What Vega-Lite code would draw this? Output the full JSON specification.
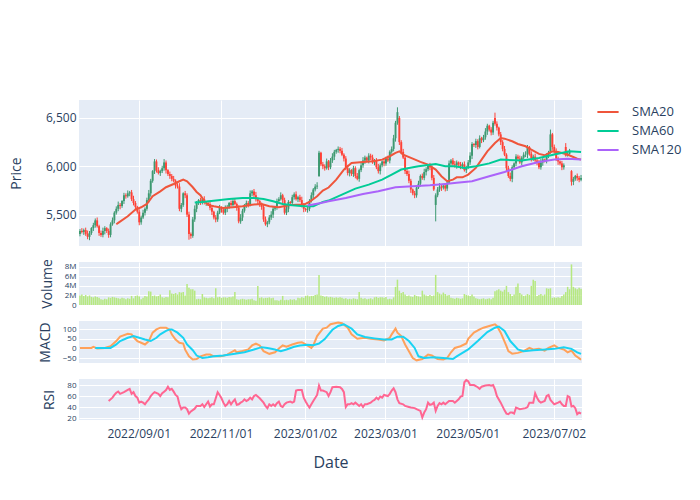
{
"$schema":"https://vega.github.io/schema/vega-lite/v6.json",
"padding":{"left":9,"top":100,"right":5,"bottom":5},
"background":"white",
"bounds":"flush",
"data":{"values":[
{"d":"2022-07-20","o":5300,"h":5350,"l":5275,"c":5330,"v":2000000,"m":3},
{"d":"2022-07-21","o":5330,"h":5360,"l":5305,"c":5320,"v":2200000},
{"d":"2022-07-22","o":5320,"h":5355,"l":5290,"c":5340,"v":1900000},
{"d":"2022-07-25","o":5340,"h":5365,"l":5280,"c":5300,"v":2100000,"m":3},
{"d":"2022-07-26","o":5300,"h":5335,"l":5245,"c":5270,"v":1800000},
{"d":"2022-07-27","o":5270,"h":5330,"l":5235,"c":5310,"v":2000000},
{"d":"2022-07-28","o":5310,"h":5370,"l":5290,"c":5360,"v":1700000,"m":3},
{"d":"2022-07-29","o":5360,"h":5415,"l":5330,"c":5390,"v":1600000,"m":9},
{"d":"2022-08-01","o":5390,"h":5460,"l":5365,"c":5440,"v":1800000,"s":3},
{"d":"2022-08-02","o":5440,"h":5470,"l":5365,"c":5380,"v":1700000,"m":0},
{"d":"2022-08-03","o":5380,"h":5395,"l":5280,"c":5310,"v":1500000},
{"d":"2022-08-04","o":5310,"h":5335,"l":5270,"c":5290,"v":1200000},
{"d":"2022-08-05","o":5290,"h":5365,"l":5265,"c":5330,"v":1100000},
{"d":"2022-08-08","o":5330,"h":5380,"l":5295,"c":5360,"v":1300000,"m":3},
{"d":"2022-08-09","o":5360,"h":5370,"l":5310,"c":5330,"v":1200000},
{"d":"2022-08-10","o":5330,"h":5355,"l":5260,"c":5290,"v":1600000,"r":51},
{"d":"2022-08-11","o":5290,"h":5420,"l":5265,"c":5400,"v":1500000,"m":12,"s":3},
{"d":"2022-08-12","o":5400,"h":5470,"l":5385,"c":5440,"v":1700000,"r":57},
{"d":"2022-08-15","o":5440,"h":5535,"l":5410,"c":5520,"v":1600000,"r":62},
{"d":"2022-08-16","o":5520,"h":5585,"l":5500,"c":5560,"v":1500000,"SMA20":5400,"m":39,"s":21,"r":66},
{"d":"2022-08-17","o":5560,"h":5635,"l":5535,"c":5600,"v":1400000,"SMA20":5414,"r":68},
{"d":"2022-08-18","o":5600,"h":5620,"l":5555,"c":5590,"v":1300000,"m":62,"s":39,"r":64},
{"d":"2022-08-19","o":5590,"h":5650,"l":5570,"c":5640,"v":1500000},
{"d":"2022-08-22","o":5640,"h":5725,"l":5610,"c":5700,"v":1400000,"r":67},
{"d":"2022-08-23","o":5700,"h":5720,"l":5665,"c":5690,"v":1200000},
{"d":"2022-08-24","o":5690,"h":5750,"l":5675,"c":5720,"v":1400000,"SMA20":5483,"m":77,"s":56,"r":71},
{"d":"2022-08-25","o":5720,"h":5745,"l":5690,"c":5730,"v":1300000,"r":73},
{"d":"2022-08-26","o":5730,"h":5755,"l":5640,"c":5660,"v":1900000,"m":74,"r":64},
{"d":"2022-08-29","o":5660,"h":5695,"l":5595,"c":5620,"v":1400000,"m":60,"s":65,"r":67},
{"d":"2022-08-30","o":5620,"h":5640,"l":5545,"c":5580,"v":1900000,"SMA20":5552,"r":60},
{"d":"2022-08-31","o":5580,"h":5590,"l":5510,"c":5530,"v":2000000,"m":39,"r":57},
{"d":"2022-09-01","o":5530,"h":5555,"l":5390,"c":5420,"v":1800000,"s":56,"r":48},
{"d":"2022-09-02","o":5420,"h":5490,"l":5395,"c":5470,"v":1200000,"SMA20":5576,"m":30,"r":50},
{"d":"2022-09-05","o":5470,"h":5550,"l":5455,"c":5520,"v":1500000,"r":48},
{"d":"2022-09-06","o":5520,"h":5575,"l":5490,"c":5560,"v":1900000,"m":21,"s":47,"r":45},
{"d":"2022-09-07","o":5560,"h":5675,"l":5540,"c":5650,"v":1800000,"SMA20":5610,"r":50},
{"d":"2022-09-08","o":5650,"h":5755,"l":5625,"c":5720,"v":2900000,"m":39,"r":54},
{"d":"2022-09-09","o":5720,"h":5870,"l":5685,"c":5850,"v":2800000,"s":39,"r":60},
{"d":"2022-09-12","o":5850,"h":5960,"l":5830,"c":5950,"v":1900000,"SMA20":5690,"m":83,"r":64},
{"d":"2022-09-13","o":5950,"h":6075,"l":5920,"c":6050,"v":2000000,"r":67},
{"d":"2022-09-14","o":6050,"h":6070,"l":5935,"c":5960,"v":1800000,"m":100,"s":56},
{"d":"2022-09-15","o":5960,"h":5990,"l":5915,"c":5930,"v":1900000,"r":64},
{"d":"2022-09-16","o":5930,"h":5965,"l":5900,"c":5950,"v":2200000,"SMA20":5741,"m":109,"s":74,"r":60},
{"d":"2022-09-19","o":5950,"h":6005,"l":5930,"c":5980,"v":1600000,"r":65},
{"d":"2022-09-20","o":5980,"h":6075,"l":5955,"c":6040,"v":1500000,"r":68},
{"d":"2022-09-21","o":6040,"h":6060,"l":5925,"c":5960,"v":1700000,"SMA20":5783,"m":109,"s":92,"r":71},
{"d":"2022-09-22","o":5960,"h":5970,"l":5900,"c":5920,"v":1600000,"r":77},
{"d":"2022-09-23","o":5920,"h":5945,"l":5870,"c":5900,"v":3100000,"m":97,"s":100,"r":71},
{"d":"2022-09-26","o":5900,"h":5920,"l":5845,"c":5870,"v":2400000,"m":74,"s":100,"r":73},
{"d":"2022-09-27","o":5870,"h":5900,"l":5835,"c":5850,"v":2300000,"SMA20":5817,"r":68},
{"d":"2022-09-28","o":5850,"h":5865,"l":5770,"c":5800,"v":2500000,"m":47,"r":62},
{"d":"2022-09-29","o":5800,"h":5825,"l":5770,"c":5790,"v":2200000,"s":83,"r":59},
{"d":"2022-09-30","o":5790,"h":5825,"l":5535,"c":5560,"v":2700000,"SMA20":5845,"m":30,"r":45},
{"d":"2022-10-03","o":5560,"h":5620,"l":5525,"c":5600,"v":2600000,"r":36},
{"d":"2022-10-04","o":5600,"h":5730,"l":5580,"c":5720,"v":2700000,"SMA20":5862,"m":26,"s":56,"r":39},
{"d":"2022-10-05","o":5720,"h":5745,"l":5670,"c":5700,"v":2000000,"m":-6,"r":39},
{"d":"2022-10-06","o":5700,"h":5720,"l":5475,"c":5500,"v":4400000,"SMA20":5845,"s":21,"r":36},
{"d":"2022-10-07","o":5500,"h":5530,"l":5240,"c":5300,"v":3600000,"m":-41,"r":28},
{"d":"2022-10-10","o":5300,"h":5315,"l":5250,"c":5280,"v":3300000,"r":32},
{"d":"2022-10-11","o":5280,"h":5475,"l":5260,"c":5450,"v":3300000,"SMA20":5783,"m":-58,"s":-9},
{"d":"2022-10-12","o":5450,"h":5595,"l":5425,"c":5560,"v":3000000,"SMA60":5625,"r":37},
{"d":"2022-10-13","o":5560,"h":5640,"l":5525,"c":5620,"v":1200000,"SMA20":5734,"m":-55,"s":-37,"r":42},
{"d":"2022-10-14","o":5620,"h":5660,"l":5600,"c":5650,"v":1300000},
{"d":"2022-10-17","o":5650,"h":5675,"l":5600,"c":5630,"v":1200000,"SMA20":5700,"m":-41,"r":42},
{"d":"2022-10-18","o":5630,"h":5680,"l":5605,"c":5660,"v":2300000,"SMA60":5631,"s":-50,"r":45},
{"d":"2022-10-19","o":5660,"h":5690,"l":5605,"c":5620,"v":1600000,"SMA20":5640,"r":40},
{"d":"2022-10-20","o":5620,"h":5635,"l":5590,"c":5620,"v":1500000,"m":-32,"r":45},
{"d":"2022-10-21","o":5620,"h":5645,"l":5590,"c":5610,"v":1400000,"SMA20":5600,"s":-46,"r":50},
{"d":"2022-10-24","o":5610,"h":5645,"l":5545,"c":5570,"v":1500000,"m":-32,"r":41},
{"d":"2022-10-25","o":5570,"h":5590,"l":5495,"c":5530,"v":1600000,"r":45},
{"d":"2022-10-26","o":5530,"h":5540,"l":5450,"c":5470,"v":1400000,"SMA20":5586,"m":-41,"s":-41,"r":45},
{"d":"2022-10-27","o":5470,"h":5495,"l":5420,"c":5450,"v":3500000,"SMA60":5645},
{"d":"2022-10-28","o":5450,"h":5540,"l":5425,"c":5520,"v":1600000,"r":67},
{"d":"2022-10-31","o":5520,"h":5600,"l":5505,"c":5570,"v":1700000,"r":62},
{"d":"2022-11-01","o":5570,"h":5585,"l":5520,"c":5550,"v":1500000,"m":-41,"r":56},
{"d":"2022-11-02","o":5550,"h":5575,"l":5500,"c":5520,"v":1600000,"SMA20":5569,"s":-37,"r":48},
{"d":"2022-11-03","o":5520,"h":5595,"l":5495,"c":5560,"v":1600000,"r":42},
{"d":"2022-11-04","o":5560,"h":5600,"l":5525,"c":5580,"v":1500000,"m":-32,"r":45},
{"d":"2022-11-07","o":5580,"h":5630,"l":5560,"c":5620,"v":1700000,"SMA60":5662,"r":51},
{"d":"2022-11-08","o":5620,"h":5645,"l":5570,"c":5600,"v":1600000,"r":45},
{"d":"2022-11-09","o":5600,"h":5660,"l":5575,"c":5640,"v":1800000,"SMA20":5576,"r":50},
{"d":"2022-11-10","o":5640,"h":5670,"l":5595,"c":5610,"v":2700000,"m":-9,"s":-27,"r":54},
{"d":"2022-11-11","o":5610,"h":5625,"l":5540,"c":5570,"v":1200000,"m":-20,"r":44},
{"d":"2022-11-14","o":5570,"h":5595,"l":5410,"c":5430,"v":1100000,"r":45},
{"d":"2022-11-15","o":5430,"h":5505,"l":5405,"c":5470,"v":1200000,"r":48},
{"d":"2022-11-16","o":5470,"h":5560,"l":5435,"c":5540,"v":1300000,"SMA20":5586,"SMA60":5672,"m":-13,"r":50},
{"d":"2022-11-17","o":5540,"h":5610,"l":5520,"c":5600,"v":1200000,"s":-20,"r":54},
{"d":"2022-11-18","o":5600,"h":5645,"l":5570,"c":5620,"v":1100000,"r":51},
{"d":"2022-11-21","o":5620,"h":5640,"l":5575,"c":5600,"v":1200000,"m":-5,"r":53},
{"d":"2022-11-22","o":5600,"h":5750,"l":5585,"c":5720,"v":1200000,"r":57},
{"d":"2022-11-23","o":5720,"h":5755,"l":5690,"c":5740,"v":1300000,"SMA20":5603,"m":16,"r":54},
{"d":"2022-11-24","o":5740,"h":5765,"l":5680,"c":5700,"v":1000000,"SMA60":5672,"s":-5,"r":60},
{"d":"2022-11-25","o":5700,"h":5735,"l":5635,"c":5660,"v":900000,"m":25,"r":62},
{"d":"2022-11-28","o":5660,"h":5680,"l":5605,"c":5640,"v":4000000},
{"d":"2022-11-29","o":5640,"h":5650,"l":5580,"c":5600,"v":1500000,"m":16,"r":56},
{"d":"2022-11-30","o":5600,"h":5625,"l":5550,"c":5580,"v":1600000,"SMA20":5610,"s":7},
{"d":"2022-12-01","o":5580,"h":5600,"l":5425,"c":5450,"v":1400000,"SMA60":5662,"m":-14,"r":48},
{"d":"2022-12-02","o":5450,"h":5480,"l":5385,"c":5400,"v":1500000,"r":42},
{"d":"2022-12-05","o":5400,"h":5435,"l":5370,"c":5420,"v":1500000,"s":3,"r":38},
{"d":"2022-12-06","o":5420,"h":5495,"l":5400,"c":5470,"v":1600000,"SMA20":5586,"m":-28,"r":45},
{"d":"2022-12-07","o":5470,"h":5535,"l":5445,"c":5500,"v":1400000,"r":42},
{"d":"2022-12-08","o":5500,"h":5580,"l":5465,"c":5560,"v":1500000,"SMA60":5638,"r":45},
{"d":"2022-12-09","o":5560,"h":5590,"l":5540,"c":5580,"v":1000000,"m":-20,"s":-5,"r":42},
{"d":"2022-12-12","o":5580,"h":5665,"l":5550,"c":5640,"v":1000000,"r":47},
{"d":"2022-12-13","o":5640,"h":5680,"l":5615,"c":5660,"v":900000,"SMA20":5576,"m":0,"r":50},
{"d":"2022-12-14","o":5660,"h":5730,"l":5645,"c":5700,"v":1100000,"s":-14,"r":42},
{"d":"2022-12-15","o":5700,"h":5715,"l":5620,"c":5650,"v":1900000,"SMA60":5610,"m":16,"r":40},
{"d":"2022-12-16","o":5650,"h":5675,"l":5500,"c":5520,"v":1000000,"r":45},
{"d":"2022-12-19","o":5520,"h":5595,"l":5495,"c":5560,"v":1100000,"m":9,"s":-5,"r":48},
{"d":"2022-12-20","o":5560,"h":5650,"l":5525,"c":5630,"v":1000000,"SMA20":5596},
{"d":"2022-12-21","o":5630,"h":5640,"l":5600,"c":5620,"v":1200000,"r":50},
{"d":"2022-12-22","o":5620,"h":5705,"l":5590,"c":5680,"v":1100000,"SMA60":5596,"m":21,"r":48},
{"d":"2022-12-23","o":5680,"h":5730,"l":5655,"c":5710,"v":1200000,"s":9,"r":50},
{"d":"2022-12-26","o":5710,"h":5740,"l":5645,"c":5660,"v":1000000,"SMA20":5603,"r":70},
{"d":"2022-12-27","o":5660,"h":5695,"l":5630,"c":5680,"v":1500000,"m":30,"r":71},
{"d":"2022-12-28","o":5680,"h":5705,"l":5630,"c":5650,"v":1400000,"s":16,"r":71},
{"d":"2022-12-29","o":5650,"h":5685,"l":5575,"c":5600,"v":1600000,"m":33,"r":71},
{"d":"2022-12-30","o":5600,"h":5620,"l":5525,"c":5560,"v":1500000,"SMA20":5603,"SMA60":5586,"r":57},
{"d":"2023-01-02","o":5560,"h":5570,"l":5530,"c":5550,"v":1900000,"m":21,"r":50},
{"d":"2023-01-03","o":5550,"h":5585,"l":5520,"c":5560,"v":2000000,"SMA120":5595,"s":19,"r":44},
{"d":"2023-01-04","o":5560,"h":5660,"l":5535,"c":5640,"v":1800000,"SMA20":5631,"r":39},
{"d":"2023-01-05","o":5640,"h":5730,"l":5625,"c":5700,"v":1900000,"m":3,"r":45},
{"d":"2023-01-06","o":5700,"h":5775,"l":5670,"c":5760,"v":1900000,"SMA60":5586,"m":16,"s":17,"r":51},
{"d":"2023-01-09","o":5760,"h":5815,"l":5740,"c":5790,"v":2100000},
{"d":"2023-01-10","o":5790,"h":5835,"l":5765,"c":5800,"v":2200000,"SMA20":5690,"m":65,"r":62},
{"d":"2023-01-11","o":5900,"h":6160,"l":5890,"c":6140,"v":6300000,"s":26,"r":79},
{"d":"2023-01-12","o":6140,"h":6150,"l":6000,"c":6020,"v":2000000,"SMA120":5620,"r":70},
{"d":"2023-01-13","o":6020,"h":6045,"l":5970,"c":6000,"v":1900000,"SMA20":5748,"SMA60":5631,"m":104,"r":70},
{"d":"2023-01-16","o":6000,"h":6020,"l":5955,"c":5980,"v":1700000,"s":49},
{"d":"2023-01-17","o":5980,"h":6080,"l":5965,"c":6050,"v":1800000,"m":109,"r":67},
{"d":"2023-01-18","o":6050,"h":6065,"l":5960,"c":5990,"v":1600000,"SMA20":5780,"SMA60":5645,"SMA120":5638,"s":74,"r":60},
{"d":"2023-01-19","o":5990,"h":6085,"l":5970,"c":6060,"v":1700000,"m":127,"r":67},
{"d":"2023-01-20","o":6060,"h":6135,"l":6035,"c":6100,"v":1600000,"s":98,"r":76},
{"d":"2023-01-23","o":6100,"h":6170,"l":6065,"c":6150,"v":1500000},
{"d":"2023-01-24","o":6150,"h":6180,"l":6130,"c":6170,"v":1600000,"SMA20":5862,"r":77},
{"d":"2023-01-25","o":6170,"h":6205,"l":6140,"c":6180,"v":1500000,"m":136,"s":118},
{"d":"2023-01-26","o":6180,"h":6200,"l":6135,"c":6160,"v":1600000,"r":76},
{"d":"2023-01-27","o":6160,"h":6190,"l":6105,"c":6120,"v":1500000,"SMA60":5707,"m":132,"r":73},
{"d":"2023-01-30","o":6120,"h":6135,"l":6050,"c":6080,"v":1300000,"SMA20":5966,"s":127,"r":67},
{"d":"2023-01-31","o":6080,"h":6105,"l":5960,"c":5980,"v":1400000,"SMA120":5672,"r":40},
{"d":"2023-02-01","o":5980,"h":6015,"l":5905,"c":5930,"v":1200000,"m":109,"r":45},
{"d":"2023-02-02","o":5930,"h":5980,"l":5895,"c":5960,"v":1300000,"r":45},
{"d":"2023-02-03","o":5960,"h":5970,"l":5900,"c":5920,"v":1200000,"SMA20":6035,"m":74,"s":104,"r":47},
{"d":"2023-02-06","o":5920,"h":6005,"l":5890,"c":5980,"v":1400000,"r":45},
{"d":"2023-02-07","o":5980,"h":6000,"l":5875,"c":5900,"v":1300000,"SMA60":5769,"r":48},
{"d":"2023-02-08","o":5900,"h":5930,"l":5855,"c":5870,"v":1200000,"m":51,"s":74,"r":45},
{"d":"2023-02-09","o":5870,"h":5975,"l":5840,"c":5960,"v":2700000,"r":42},
{"d":"2023-02-10","o":5960,"h":6035,"l":5940,"c":6010,"v":1500000,"r":45},
{"d":"2023-02-13","o":6010,"h":6095,"l":5985,"c":6060,"v":1300000,"SMA20":6045,"SMA120":5714,"r":40},
{"d":"2023-02-14","o":6060,"h":6110,"l":6025,"c":6090,"v":1400000,"m":56,"s":60,"r":45},
{"d":"2023-02-15","o":6090,"h":6100,"l":6040,"c":6060,"v":1200000,"r":45},
{"d":"2023-02-16","o":6060,"h":6135,"l":6030,"c":6110,"v":1300000,"SMA60":5810},
{"d":"2023-02-17","o":6110,"h":6130,"l":6065,"c":6090,"v":1400000,"m":51,"r":48},
{"d":"2023-02-20","o":6090,"h":6120,"l":6025,"c":6040,"v":1200000,"SMA20":6052,"r":51},
{"d":"2023-02-21","o":6040,"h":6075,"l":6010,"c":6060,"v":1600000,"s":53,"r":53},
{"d":"2023-02-22","o":6060,"h":6085,"l":5970,"c":5990,"v":1700000,"r":57},
{"d":"2023-02-23","o":5990,"h":6025,"l":5925,"c":5950,"v":1500000,"SMA120":5741,"m":47,"r":54},
{"d":"2023-02-24","o":5950,"h":6030,"l":5915,"c":6010,"v":1600000,"r":59},
{"d":"2023-02-27","o":6010,"h":6060,"l":5990,"c":6050,"v":1600000,"SMA20":6069,"SMA60":5862,"r":57},
{"d":"2023-02-28","o":6050,"h":6075,"l":6000,"c":6030,"v":1500000,"m":42,"s":47,"r":62},
{"d":"2023-03-01","o":6030,"h":6100,"l":6005,"c":6080,"v":1700000},
{"d":"2023-03-02","o":6080,"h":6110,"l":6045,"c":6060,"v":1200000,"r":60},
{"d":"2023-03-03","o":6060,"h":6165,"l":6030,"c":6150,"v":1300000,"SMA20":6104,"m":56,"r":64},
{"d":"2023-03-06","o":6150,"h":6205,"l":6130,"c":6180,"v":1200000,"SMA60":5914,"m":74,"s":47,"r":70},
{"d":"2023-03-07","o":6180,"h":6325,"l":6155,"c":6290,"v":1600000,"r":74},
{"d":"2023-03-08","o":6290,"h":6470,"l":6255,"c":6450,"v":3800000,"SMA20":6138,"SMA120":5783,"m":104,"r":67},
{"d":"2023-03-09","o":6450,"h":6610,"l":6430,"c":6560,"v":5300000,"m":83,"s":62,"r":54},
{"d":"2023-03-10","o":6500,"h":6520,"l":6220,"c":6250,"v":3000000,"SMA20":6155,"r":47},
{"d":"2023-03-13","o":6250,"h":6270,"l":6125,"c":6150,"v":2500000,"SMA60":5966,"m":65},
{"d":"2023-03-14","o":6150,"h":6180,"l":6075,"c":6090,"v":2700000,"SMA20":6121,"s":62,"r":45},
{"d":"2023-03-15","o":6090,"h":6105,"l":5920,"c":5950,"v":2200000,"m":21,"r":42},
{"d":"2023-03-16","o":5950,"h":5975,"l":5900,"c":5920,"v":1900000},
{"d":"2023-03-17","o":5920,"h":5955,"l":5825,"c":5850,"v":2000000,"SMA60":5983,"m":-14,"s":39,"r":40},
{"d":"2023-03-20","o":5850,"h":5870,"l":5725,"c":5760,"v":1800000,"r":39},
{"d":"2023-03-21","o":5760,"h":5770,"l":5700,"c":5720,"v":1700000,"SMA20":6079,"SMA120":5793,"m":-50},
{"d":"2023-03-22","o":5720,"h":5745,"l":5670,"c":5700,"v":2100000,"s":3,"r":38},
{"d":"2023-03-23","o":5700,"h":5800,"l":5675,"c":5780,"v":1900000,"m":-62,"r":36},
{"d":"2023-03-24","o":5780,"h":5850,"l":5765,"c":5820,"v":1800000,"SMA60":6000,"s":-41},
{"d":"2023-03-27","o":5820,"h":5915,"l":5790,"c":5900,"v":1700000,"SMA20":6045,"r":33},
{"d":"2023-03-28","o":5900,"h":5925,"l":5860,"c":5880,"v":3000000,"m":-55,"r":21},
{"d":"2023-03-29","o":5880,"h":5975,"l":5855,"c":5940,"v":2200000,"s":-50,"r":30},
{"d":"2023-03-30","o":5940,"h":5990,"l":5905,"c":5970,"v":2000000,"r":36},
{"d":"2023-03-31","o":5970,"h":6020,"l":5950,"c":6010,"v":1900000,"SMA20":6017,"m":-32,"r":48},
{"d":"2023-04-03","o":6010,"h":6035,"l":5960,"c":5990,"v":2100000,"SMA60":6017,"SMA120":5803,"r":44},
{"d":"2023-04-04","o":5990,"h":6010,"l":5855,"c":5880,"v":1900000,"m":-37,"r":45},
{"d":"2023-04-05","o":5880,"h":5910,"l":5745,"c":5760,"v":2000000,"s":-46,"r":48},
{"d":"2023-04-06","o":5600,"h":5720,"l":5430,"c":5700,"v":6300000,"SMA20":5966,"SMA60":6024,"r":33},
{"d":"2023-04-07","o":5700,"h":5785,"l":5680,"c":5760,"v":2700000,"m":-55,"r":42},
{"d":"2023-04-10","o":5760,"h":5825,"l":5735,"c":5790,"v":2400000,"r":47},
{"d":"2023-04-11","o":5790,"h":5810,"l":5745,"c":5780,"v":2200000,"SMA20":5897,"r":45},
{"d":"2023-04-12","o":5780,"h":5810,"l":5760,"c":5800,"v":2600000,"m":-58,"s":-50,"r":48},
{"d":"2023-04-13","o":5800,"h":5825,"l":5740,"c":5770,"v":2300000,"SMA60":6000,"SMA120":5817,"r":45},
{"d":"2023-04-14","o":5770,"h":5850,"l":5745,"c":5830,"v":2000000,"SMA20":5845,"m":-50},
{"d":"2023-04-17","o":5830,"h":6060,"l":5815,"c":6030,"v":2100000,"r":51},
{"d":"2023-04-18","o":6030,"h":6075,"l":6000,"c":6060,"v":1500000,"m":-20},
{"d":"2023-04-19","o":6060,"h":6085,"l":6000,"c":6020,"v":1400000,"SMA20":5862,"s":-55,"r":51},
{"d":"2023-04-20","o":6020,"h":6055,"l":5985,"c":6010,"v":1300000,"SMA60":6000,"m":3,"r":48},
{"d":"2023-04-21","o":6010,"h":6060,"l":5975,"c":6040,"v":1500000,"SMA20":5886,"SMA120":5830,"s":-41},
{"d":"2023-04-24","o":6040,"h":6050,"l":6000,"c":6020,"v":1400000,"r":54},
{"d":"2023-04-25","o":6020,"h":6045,"l":5970,"c":6000,"v":1300000,"m":12,"r":59},
{"d":"2023-04-26","o":6000,"h":6040,"l":5975,"c":6020,"v":1400000,"SMA20":5886,"r":60},
{"d":"2023-04-27","o":6020,"h":6050,"l":5945,"c":5960,"v":2300000,"SMA60":5983,"r":85},
{"d":"2023-04-28","o":5960,"h":6005,"l":5930,"c":5990,"v":2100000,"m":26,"r":89},
{"d":"2023-05-01","o":5990,"h":6065,"l":5970,"c":6040,"v":2000000,"SMA20":5914,"m":51,"s":-5,"r":87},
{"d":"2023-05-02","o":6040,"h":6145,"l":6015,"c":6110,"v":1900000,"r":80},
{"d":"2023-05-03","o":6110,"h":6250,"l":6075,"c":6230,"v":2200000,"SMA120":5845},
{"d":"2023-05-04","o":6230,"h":6240,"l":6200,"c":6220,"v":1800000,"m":83,"r":80},
{"d":"2023-05-05","o":6220,"h":6285,"l":6190,"c":6260,"v":1400000,"SMA20":5983,"SMA60":6000},
{"d":"2023-05-08","o":6260,"h":6280,"l":6175,"c":6200,"v":1300000,"s":39,"r":76},
{"d":"2023-05-09","o":6200,"h":6320,"l":6185,"c":6290,"v":1200000,"m":100,"r":73},
{"d":"2023-05-10","o":6290,"h":6305,"l":6240,"c":6270,"v":1300000,"SMA20":6069,"r":77},
{"d":"2023-05-11","o":6270,"h":6325,"l":6250,"c":6300,"v":1400000,"m":109},
{"d":"2023-05-12","o":6300,"h":6395,"l":6275,"c":6360,"v":1200000,"r":79},
{"d":"2023-05-15","o":6360,"h":6440,"l":6325,"c":6420,"v":1300000,"SMA20":6155,"s":86},
{"d":"2023-05-16","o":6420,"h":6430,"l":6360,"c":6380,"v":1400000,"SMA60":6030,"SMA120":5897,"m":118,"r":80},
{"d":"2023-05-17","o":6380,"h":6405,"l":6320,"c":6350,"v":1200000,"r":79},
{"d":"2023-05-18","o":6350,"h":6470,"l":6325,"c":6450,"v":1500000,"r":80},
{"d":"2023-05-19","o":6500,"h":6555,"l":6420,"c":6440,"v":2900000,"SMA20":6241,"m":127,"s":109,"r":72},
{"d":"2023-05-22","o":6440,"h":6465,"l":6370,"c":6400,"v":3100000,"m":118,"r":60},
{"d":"2023-05-23","o":6400,"h":6410,"l":6310,"c":6330,"v":3300000,"s":115},
{"d":"2023-05-24","o":6330,"h":6355,"l":6220,"c":6250,"v":3000000,"SMA20":6293,"SMA60":6069,"m":83,"r":48},
{"d":"2023-05-25","o":6250,"h":6270,"l":6155,"c":6180,"v":2800000},
{"d":"2023-05-26","o":6180,"h":6210,"l":6105,"c":6120,"v":3200000,"SMA20":6286,"SMA120":5941,"s":92,"r":34},
{"d":"2023-05-29","o":6120,"h":6135,"l":5950,"c":5980,"v":4000000,"m":12,"r":28},
{"d":"2023-05-30","o":5980,"h":6005,"l":5880,"c":5900,"v":2700000,"m":-14,"r":27},
{"d":"2023-05-31","o":5900,"h":5935,"l":5845,"c":5870,"v":2300000,"s":39,"r":30},
{"d":"2023-06-01","o":5870,"h":6010,"l":5835,"c":5990,"v":1900000,"SMA20":6259,"m":-27,"r":30},
{"d":"2023-06-02","o":5990,"h":6040,"l":5970,"c":6030,"v":2200000,"r":28},
{"d":"2023-06-05","o":6030,"h":6125,"l":6000,"c":6100,"v":3800000,"r":39},
{"d":"2023-06-06","o":6100,"h":6120,"l":6055,"c":6080,"v":4500000,"SMA20":6231,"m":-23,"s":-5},
{"d":"2023-06-07","o":6080,"h":6110,"l":6025,"c":6040,"v":2500000,"r":36},
{"d":"2023-06-08","o":6040,"h":6105,"l":6010,"c":6090,"v":2200000,"SMA60":6059,"SMA120":6000},
{"d":"2023-06-09","o":6090,"h":6145,"l":6070,"c":6120,"v":1900000,"m":-14,"s":-14},
{"d":"2023-06-12","o":6120,"h":6155,"l":6095,"c":6120,"v":2000000,"SMA20":6207,"r":38},
{"d":"2023-06-13","o":6120,"h":6220,"l":6085,"c":6200,"v":2300000,"r":40},
{"d":"2023-06-14","o":6200,"h":6210,"l":6110,"c":6130,"v":2100000,"m":3,"r":48},
{"d":"2023-06-15","o":6130,"h":6155,"l":6050,"c":6080,"v":4000000,"SMA20":6172},
{"d":"2023-06-16","o":6080,"h":6120,"l":6055,"c":6100,"v":5300000,"m":-5,"s":-9,"r":48},
{"d":"2023-06-19","o":6100,"h":6130,"l":6045,"c":6060,"v":5000000,"r":65},
{"d":"2023-06-20","o":6060,"h":6075,"l":6010,"c":6040,"v":1900000,"r":57},
{"d":"2023-06-21","o":6040,"h":6065,"l":5970,"c":5990,"v":2100000,"SMA20":6128,"SMA60":6086,"SMA120":6045,"m":-2,"r":51},
{"d":"2023-06-22","o":5990,"h":6075,"l":5965,"c":6040,"v":2300000,"r":48},
{"d":"2023-06-23","o":6040,"h":6090,"l":6005,"c":6070,"v":2000000},
{"d":"2023-06-26","o":6070,"h":6080,"l":6040,"c":6060,"v":2200000,"SMA20":6114,"m":-11,"s":-5,"r":51},
{"d":"2023-06-27","o":6060,"h":6135,"l":6030,"c":6110,"v":3500000,"r":60},
{"d":"2023-06-28","o":6110,"h":6160,"l":6085,"c":6140,"v":3400000,"m":3,"r":62},
{"d":"2023-06-29","o":6150,"h":6380,"l":6130,"c":6330,"v":3500000,"r":53},
{"d":"2023-06-30","o":6330,"h":6345,"l":6170,"c":6200,"v":1500000,"SMA20":6155},
{"d":"2023-07-03","o":6200,"h":6225,"l":6130,"c":6150,"v":1600000,"SMA60":6121,"SMA120":6069,"m":16,"s":-2,"r":45},
{"d":"2023-07-04","o":6150,"h":6185,"l":6055,"c":6080,"v":1500000},
{"d":"2023-07-05","o":6080,"h":6100,"l":6015,"c":6050,"v":1600000,"SMA20":6148,"m":3,"r":48},
{"d":"2023-07-06","o":6050,"h":6060,"l":6010,"c":6030,"v":1500000,"r":50},
{"d":"2023-07-07","o":6030,"h":6055,"l":5960,"c":5990,"v":1900000,"r":45},
{"d":"2023-07-10","o":5990,"h":6030,"l":5965,"c":6010,"v":2200000,"m":-5,"s":7,"r":42},
{"d":"2023-07-11","o":6200,"h":6240,"l":6100,"c":6110,"v":2700000,"SMA20":6128,"r":42},
{"d":"2023-07-12","o":6110,"h":6160,"l":6100,"c":6130,"v":3800000,"SMA120":6079,"m":-20,"r":60},
{"d":"2023-07-13","o":6130,"h":6180,"l":6120,"c":6160,"v":3300000,"SMA60":6155,"r":58},
{"d":"2023-07-14","o":5950,"h":5960,"l":5800,"c":5840,"v":8500000,"SMA20":6104,"m":-11,"s":-2,"r":41},
{"d":"2023-07-17","o":5840,"h":5890,"l":5805,"c":5870,"v":3800000,"r":42},
{"d":"2023-07-18","o":5870,"h":5910,"l":5850,"c":5900,"v":3500000,"m":-37,"r":38},
{"d":"2023-07-19","o":5900,"h":5925,"l":5850,"c":5880,"v":3300000,"SMA20":6079,"s":-20,"r":27},
{"d":"2023-07-20","o":5880,"h":5900,"l":5835,"c":5860,"v":3600000,"r":30},
{"d":"2023-07-21","o":5860,"h":5910,"l":5845,"c":5880,"v":3400000,"SMA20":6069,"SMA60":6148,"SMA120":6069,"m":-58,"s":-28,"r":28}
]},
"vconcat":[
{"width":503,"height":146,
 "encoding":{"x":{"field":"d","type":"ordinal","scale":{"paddingInner":0,"paddingOuter":0},"axis":{"values":["2022-09-01","2022-11-01","2023-01-02","2023-03-01","2023-05-01","2023-07-03"],"labels":false,"title":null,"grid":true,"bandPosition":0.5}}},
 "layer":[
  {"mark":{"type":"rule","strokeWidth":1},
   "encoding":{"y":{"field":"l","type":"quantitative","title":"Price","scale":{"domain":[5175,6686],"nice":false,"zero":false},"axis":{"values":[5500,6000,6500],"labelExpr":"format(datum.value, ',')","titlePadding":22,"grid":true}},
   "y2":{"field":"h"},
   "color":{"condition":{"test":"datum.c >= datum.o","value":"#3D9970"},"value":"#FF4136"}}},
  {"mark":{"type":"bar","width":{"band":1}},
   "encoding":{"y":{"field":"o","type":"quantitative","title":"Price","axis":{"values":[5500,6000,6500],"labelExpr":"format(datum.value, ',')","titlePadding":22,"grid":true}},"y2":{"field":"c"},
   "color":{"condition":{"test":"datum.c >= datum.o","value":"#3D9970"},"value":"#FF4136"}}},
  {"transform":[{"fold":["SMA20","SMA60","SMA120"],"as":["k","val"]},{"filter":"isValid(datum.val)"}],
   "mark":{"type":"line","strokeWidth":2,"invalid":"filter"},
   "encoding":{"y":{"field":"val","type":"quantitative","title":"Price","axis":{"values":[5500,6000,6500],"labelExpr":"format(datum.value, ',')","titlePadding":22,"grid":true}},
   "color":{"field":"k","type":"nominal","scale":{"domain":["SMA20","SMA60","SMA120"],"range":["#EF553B","#00CC96","#AB63FA"]},"legend":{"title":null}}}}
 ]},
{"width":503,"height":43,
 "mark":{"type":"bar","width":{"band":0.8},"color":"#B6E880"},
 "encoding":{"x":{"field":"d","type":"ordinal","scale":{"paddingInner":0,"paddingOuter":0},"axis":{"values":["2022-09-01","2022-11-01","2023-01-02","2023-03-01","2023-05-01","2023-07-03"],"labels":false,"title":null,"grid":true,"bandPosition":0.5}},
  "y":{"field":"v","type":"quantitative","title":"Volume","scale":{"domain":[0,9000000],"nice":false},"axis":{"values":[0,2000000,4000000,6000000,8000000],"labelExpr":"datum.value == 0 ? '0' : format(datum.value/1000000,'d') + 'M'","labelFontSize":8,"labelOverlap":false,"labelFlush":false,"titlePadding":10,"grid":true}}}},
{"width":503,"height":42,
 "encoding":{"x":{"field":"d","type":"ordinal","scale":{"paddingInner":0,"paddingOuter":0},"axis":{"values":["2022-09-01","2022-11-01","2023-01-02","2023-03-01","2023-05-01","2023-07-03"],"labels":false,"title":null,"grid":true,"bandPosition":0.5}}},
 "layer":[
  {"transform":[{"filter":"isValid(datum.m)"}],
   "mark":{"type":"line","strokeWidth":2,"color":"#FFA15A","invalid":"filter"},
   "encoding":{"y":{"field":"m","type":"quantitative","title":"MACD","scale":{"domain":[-76,144],"nice":false,"zero":false},"axis":{"values":[-50,0,50,100],"labelFontSize":8,"labelOverlap":false,"labelFlush":false,"titlePadding":10,"grid":true}}}},
  {"transform":[{"filter":"isValid(datum.s)"}],
   "mark":{"type":"line","strokeWidth":2,"color":"#19D3F3","invalid":"filter"},
   "encoding":{"y":{"field":"s","type":"quantitative","title":"MACD","axis":{"values":[-50,0,50,100],"labelFontSize":8,"labelOverlap":false,"labelFlush":false,"titlePadding":10,"grid":true}}}}
 ]},
{"width":503,"height":41,
 "transform":[{"filter":"isValid(datum.r)"}],
 "mark":{"type":"line","strokeWidth":2,"color":"#FF6692","invalid":"filter"},
 "encoding":{"x":{"field":"d","type":"ordinal","scale":{"paddingInner":0,"paddingOuter":0},"axis":{"values":["2022-09-01","2022-11-01","2023-01-02","2023-03-01","2023-05-01","2023-07-03"],"title":"Date","titleFontSize":16,"grid":true,"bandPosition":0.5,"labelAngle":0,"labelOverlap":false,"labelPadding":8,"titlePadding":15,"labelExpr":"datum.value == '2023-07-03' ? '2023/07/02' : slice(datum.value,0,4)+'/'+slice(datum.value,5,7)+'/'+slice(datum.value,8,10)"}},
  "y":{"field":"r","type":"quantitative","title":"RSI","scale":{"domain":[16.4,91],"nice":false,"zero":false},"axis":{"values":[20,40,60,80],"labelFontSize":8,"labelOverlap":false,"labelFlush":false,"titlePadding":10,"grid":true}}}}
],
"resolve":{"scale":{"x":"shared","y":"independent","color":"independent"}},
"config":{
 "font":"Open Sans",
 "view":{"stroke":null,"fill":"#E5ECF6"},
 "concat":{"spacing":16},
 "axis":{"domain":false,"ticks":false,"gridColor":"#ffffff","gridWidth":1,"labelColor":"#2a3f5f","labelFontSize":12,"labelFont":"Open Sans","titleFont":"Open Sans","titleColor":"#2a3f5f","titleFontSize":14,"titleFontWeight":"normal","labelPadding":3},
 "legend":{"orient":"right","offset":10,"padding":0,"labelFontSize":13,"labelColor":"#2a3f5f","labelFont":"Open Sans","symbolType":"stroke","symbolStrokeWidth":2,"symbolSize":450,"rowPadding":0,"labelOffset":12}
}
}
